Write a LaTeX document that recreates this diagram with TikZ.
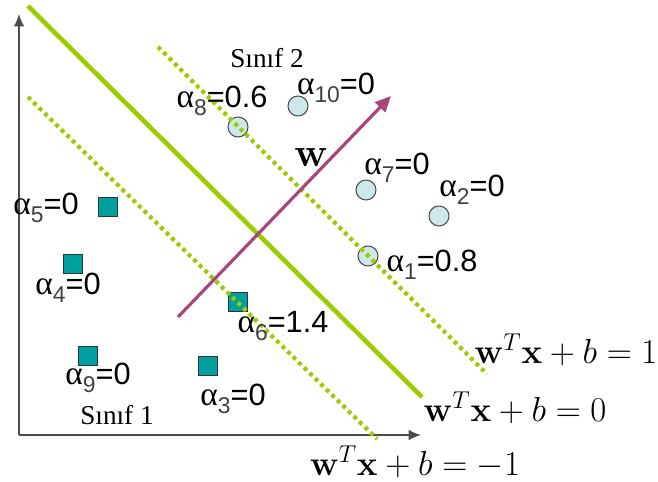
\RequirePackage{fix-cm}
\documentclass[tikz,border=0pt]{standalone}
\usepackage[no-math]{fontspec}
\setmainfont{Liberation Sans}
\newfontfamily\serifgr{Liberation Serif}
\usepackage{amsmath, amssymb}
\usetikzlibrary{arrows.meta}
\definecolor{limeline}{HTML}{9CCC00}
\definecolor{wvec}{HTML}{A8457A}
\definecolor{ptfill}{HTML}{CDE8EA}
\definecolor{sqfill}{HTML}{00A0A0}
\newcommand{\alab}[2]{{\serifgr\fontsize{19}{19}\selectfont α}\raisebox{-0.5ex}{\fontsize{13}{13}\selectfont\color{black!75}#1}=#2}
\tikzset{
	axis/.style={draw=black!70, line width=0.9pt, -{Latex[length=7pt, width=6pt]}},
	hyper/.style={draw=limeline, line width=2.6pt},
	margin/.style={draw=limeline, line width=2.4pt, dash pattern=on 2.2pt off 2.2pt},
	classtwo/.style={shape=circle, draw=black!70, fill=ptfill, line width=0.6pt, minimum size=0.4cm, inner sep=0pt},
	classone/.style={shape=rectangle, draw=black!80, fill=sqfill, line width=0.6pt, minimum size=0.38cm, inner sep=0pt},
	alpha/.style={font=\fontsize{17.5}{20}\selectfont, inner sep=0pt},
	classname/.style={font=\serifgr\fontsize{15.5}{18}\selectfont, inner sep=0pt},
	eqn/.style={font=\fontsize{19.8}{22}\selectfont, inner sep=0pt}
}
\begin{document}
\begin{tikzpicture}[x=0.02cm, y=-0.02cm]
	\useasboundingbox (0,0) rectangle (658,482);
	% Axes, points, hyperplanes and labels:
	\coordinate (orig) at (19,435);
	\coordinate (ytop) at (19,14);
	\coordinate (xend) at (421,435);
	\draw[axis] (orig) -- (ytop);
	\draw[axis] (orig) -- (xend);
	\node[classtwo] (p8) at (238,127) {};
	\node[classtwo] (p10) at (298,106) {};
	\node[classtwo] (p7) at (366,190) {};
	\node[classtwo] (p2) at (439,216) {};
	\node[classtwo] (p1) at (368,256) {};
	\node[classone] (s5) at (108,207) {};
	\node[classone] (s4) at (73,264) {};
	\node[classone] (s6) at (238,302) {};
	\node[classone] (s9) at (88,356) {};
	\node[classone] (s3) at (208,366) {};
	\coordinate (h0a) at (28,6);
	\coordinate (h0b) at (422,397);
	\coordinate (h1a) at (158,47);
	\coordinate (h1b) at (487,374);
	\coordinate (hma) at (28,97);
	\coordinate (hmb) at (377,439);
	\draw[hyper] (h0a) -- (h0b);
	\draw[margin] (h1a) -- (h1b);
	\draw[margin] (hma) -- (hmb);
	\coordinate (wtail) at (178,317);
	\coordinate (whead) at (391,96);
	\draw[wvec, line width=1.8pt, -{Triangle[length=9pt, width=8pt]}] (wtail) -- (whead);
	\node[font=\fontsize{23}{23}\selectfont] (wname) at (311,158) {$\mathbf{w}$};
	\node[classname] (c2) at (267,58) {Sınıf 2};
	\node[classname] (c1) at (117,415) {Sınıf 1};
	\node[alpha] (a8) at (222,101) {\alab{8}{0.6}};
	\node[alpha] (a10) at (336,88) {\alab{10}{0}};
	\node[alpha] (a7) at (397,168) {\alab{7}{0}};
	\node[alpha] (a2) at (472,190) {\alab{2}{0}};
	\node[alpha] (a1) at (432,265) {\alab{1}{0.8}};
	\node[alpha] (a5) at (46,208) {\alab{5}{0}};
	\node[alpha] (a4) at (68,288) {\alab{4}{0}};
	\node[alpha] (a6) at (283,326) {\alab{6}{1.4}};
	\node[alpha] (a9) at (98,378) {\alab{9}{0}};
	\node[alpha] (a3) at (233,399) {\alab{3}{0}};
	\node[eqn] (e1) at (566,350) {$\mathbf{w}^T\mathbf{x}+b=1$};
	\node[eqn] (e0) at (515,408) {$\mathbf{w}^T\mathbf{x}+b=0$};
	\node[eqn] (em) at (415,462) {$\mathbf{w}^T\mathbf{x}+b=-1$};
\end{tikzpicture}
\end{document}
